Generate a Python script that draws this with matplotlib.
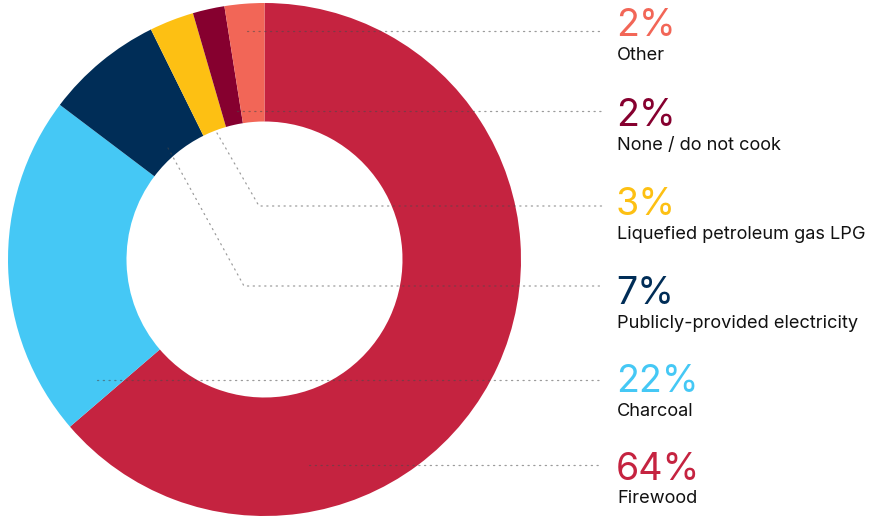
import matplotlib
matplotlib.use("Agg")
import matplotlib.pyplot as plt

plt.rcParams['font.family'] = ['Inter', 'DejaVu Sans']

categories = ["Firewood", "Charcoal", "Publicly-provided electricity",
              "Liquefied petroleum gas LPG", "None / do not cook", "Other"]
values = [63.7, 21.6, 7.4, 2.8, 2.0, 2.5]
pct_labels = ["64%", "22%", "7%", "3%", "2%", "2%"]
colors = ["#C52340", "#45C8F5", "#002D57", "#FDC013", "#86002F", "#F26657"]

W, H = 870, 519
fig = plt.figure(figsize=(W / 100, H / 100), dpi=100)
ax = fig.add_axes([0, 0, 1, 1])

cx, cy = 264.5, H - 259.5
R, r_in = 256.5, 138.0
wedges, _ = ax.pie(values, colors=colors, startangle=90, counterclock=False,
                   center=(cx, cy), radius=R, frame=True,
                   wedgeprops=dict(width=R - r_in, linewidth=0))
ax.set_xlim(0, W)
ax.set_ylim(0, H)
ax.axis('off')

# label layout (pixel coordinates from top)
text_x = 617
pct_base = {"Other": 36, "None / do not cook": 126, "Liquefied petroleum gas LPG": 215,
            "Publicly-provided electricity": 304, "Charcoal": 392, "Firewood": 480}
leaders = {
    "Other": [(247, 31), (602, 31)],
    "None / do not cook": [(237, 111), (602, 111)],
    "Liquefied petroleum gas LPG": [(217, 133), (259, 206), (602, 206)],
    "Publicly-provided electricity": [(168, 148), (244, 286), (602, 286)],
    "Charcoal": [(97, 380), (602, 380)],
    "Firewood": [(309, 465), (602, 465)],
}

for cat, pct, col in zip(categories, pct_labels, colors):
    pts = leaders[cat]
    xs = [p[0] for p in pts]
    ys = [H - p[1] for p in pts]
    ax.plot(xs, ys, color='#4a4a4a', alpha=0.55, lw=0.9,
            linestyle=(0, (1, 3.6)), dash_capstyle='round', zorder=5)
    yb = H - pct_base[cat]
    ax.text(text_x - 1, yb, pct, color=col, fontsize=27, fontweight='normal',
            ha='left', va='baseline')
    ax.text(text_x, yb - 23.5, cat, color='#111111', fontsize=13.1,
            ha='left', va='baseline')

fig.savefig("out.png", dpi=100)
